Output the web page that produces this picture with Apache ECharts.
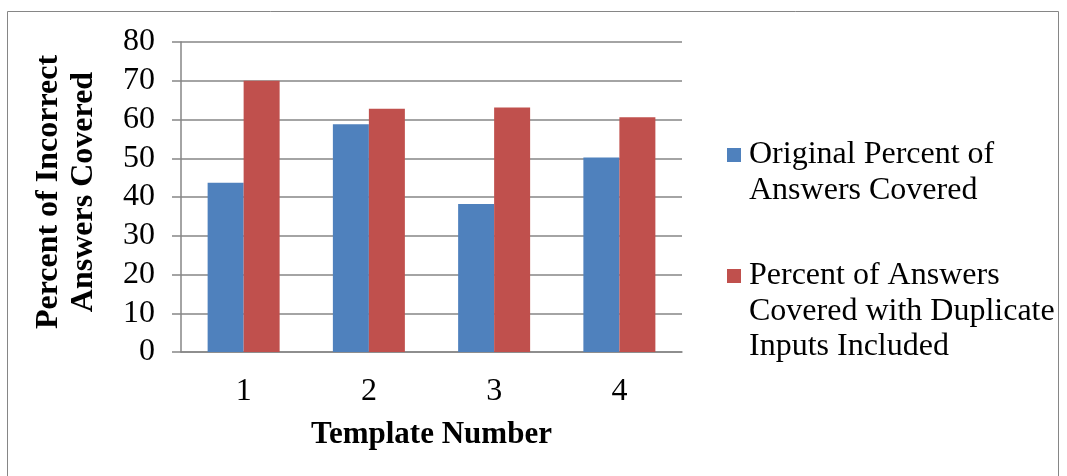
<!DOCTYPE html>
<html><head><meta charset="utf-8">
<script src="https://cdn.jsdelivr.net/npm/echarts@6/dist/echarts.min.js"></script>
<style>html,body{margin:0;padding:0;background:#fff}#c{width:1067px;height:476px}</style>
</head><body><div id="c"></div>
<script>
const categories = ['1', '2', '3', '4'];
const seriesNames = ['Original Percent of Answers Covered', 'Percent of Answers Covered with Duplicate Inputs Included'];
const legendLines = [['Original Percent of', 'Answers Covered'], ['Percent of Answers', 'Covered with Duplicate', 'Inputs Included']];
const originalValues = [43.7, 58.8, 38.2, 50.2];
const duplicateValues = [70.0, 62.8, 63.1, 60.6];
const yTicks = [0, 80, 10];
const xTitle = 'Template Number';
const yTitle = ['Percent of Incorrect', 'Answers Covered'];

const F = 'Liberation Serif, Times New Roman, serif';
const LH = 35.5;
// pad each legend label with leading blank lines so the icon sits on its first line
function legendText(i) {
  const lines = legendLines[i];
  return '\n'.repeat(lines.length - 1) + lines.join('\n');
}
function legendTop(i, firstLineCenter) {
  const n = legendLines[i].length * 2 - 1;
  return firstLineCenter - n * LH / 2;
}
const chart = echarts.init(document.getElementById('c'), null, {renderer: 'canvas'});
const legendBase = {
  orient: 'vertical', left: 727, itemWidth: 14, itemHeight: 14, padding: 0,
  icon: 'rect',
  textStyle: {fontFamily: F, fontSize: 32, color: '#000', lineHeight: LH, padding: [2, 0, 0, 3]},
  formatter: function (name) { return legendText(seriesNames.indexOf(name)); }
};
chart.setOption({
  animation: false,
  backgroundColor: '#fff',
  graphic: [
    {type: 'rect', shape: {x: 7.5, y: 11.5, width: 1051, height: 480}, style: {fill: 'none', stroke: '#868686', lineWidth: 1}},
    {type: 'text', x: 66, y: 192, rotation: Math.PI / 2,
      style: {text: yTitle.join('\n'), fontFamily: F, fontSize: 32, fontWeight: 'bold', fill: '#000', lineHeight: 35, align: 'center', verticalAlign: 'middle'}}
  ],
  grid: {left: 181, right: 385, top: 42, bottom: 124},
  legend: [
    Object.assign({}, legendBase, {top: legendTop(0, 154), data: [seriesNames[0]]}),
    Object.assign({}, legendBase, {top: legendTop(1, 275), data: [seriesNames[1]]})
  ],
  xAxis: {
    type: 'category', data: categories,
    axisLine: {lineStyle: {color: '#868686', width: 1.5}},
    axisTick: {show: false},
    axisLabel: {fontFamily: F, fontSize: 32, color: '#000', margin: 24},
    name: xTitle, nameLocation: 'middle', nameGap: 67,
    nameTextStyle: {fontFamily: F, fontSize: 31, fontWeight: 'bold', color: '#000'}
  },
  yAxis: {
    type: 'value', min: yTicks[0], max: yTicks[1], interval: yTicks[2],
    axisLine: {show: true, lineStyle: {color: '#868686', width: 1.5}},
    axisTick: {show: true, length: 9, lineStyle: {color: '#868686', width: 1.5}},
    splitLine: {lineStyle: {color: '#868686', width: 1.5}},
    axisLabel: {fontFamily: F, fontSize: 32, color: '#000', margin: 26}
  },
  series: [
    {name: seriesNames[0], type: 'bar', data: originalValues, barWidth: 36, barGap: '0%', itemStyle: {color: '#4F81BD'}},
    {name: seriesNames[1], type: 'bar', data: duplicateValues, barWidth: 36, barGap: '0%', itemStyle: {color: '#C0504D'}}
  ]
});
</script></body></html>
